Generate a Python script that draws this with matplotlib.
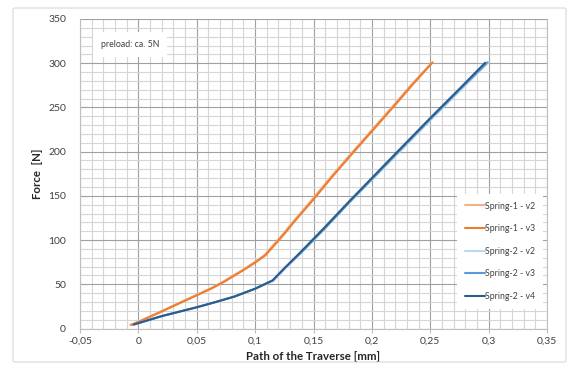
import matplotlib
matplotlib.use("Agg")
import matplotlib.pyplot as plt
from matplotlib.patches import FancyBboxPatch
from matplotlib.ticker import MultipleLocator, FuncFormatter

plt.rcParams['font.family'] = ['Lato', 'DejaVu Sans']

# Spring-1 (orange)
s1_v2_x = [-0.007, 0.0, 0.018, 0.035, 0.049, 0.062, 0.072, 0.089, 0.099, 0.108, 0.114, 0.124, 0.132, 0.149, 0.164, 0.181, 0.199, 0.219, 0.234, 0.251]
s1_v2_y = [4, 7.5, 18.5, 29, 37.5, 45.5, 52.5, 66, 74.5, 83, 92, 107, 120, 146, 170, 196, 223, 253, 276, 300]
s1_v3_x = [-0.006, 0.0, 0.018, 0.036, 0.05, 0.063, 0.073, 0.09, 0.1, 0.109, 0.115, 0.125, 0.133, 0.15, 0.165, 0.182, 0.2, 0.22, 0.235, 0.252]
s1_v3_y = [4, 7.5, 18, 29, 37.5, 45.5, 52.5, 66, 74.5, 83, 92, 107, 120, 146, 170, 196, 223, 253, 276, 301]

# Spring-2 (blue)
s2_v2_x = [-0.004, 0.02, 0.05, 0.065, 0.082, 0.1, 0.116, 0.126, 0.14, 0.161, 0.181, 0.218, 0.252, 0.277, 0.300]
s2_v2_y = [4.5, 14, 24, 29.5, 36, 45, 54, 68, 86.5, 115, 143, 192, 238, 271, 301]
s2_v3_x = [-0.004, 0.02, 0.05, 0.065, 0.082, 0.1, 0.115, 0.125, 0.14, 0.161, 0.181, 0.217, 0.251, 0.276, 0.299]
s2_v3_y = [4.5, 14, 24, 29.5, 36, 45, 54.4, 68, 86.5, 115, 143, 192, 238, 271, 301]
s2_v4_x = [-0.004, 0.02, 0.05, 0.065, 0.082, 0.1, 0.115, 0.125, 0.139, 0.16, 0.18, 0.216, 0.25, 0.275, 0.297]
s2_v4_y = [4.5, 14, 24, 29.5, 36, 45, 54.4, 68, 86.5, 115, 143, 192, 238, 271, 300.5]

series = [
    ("Spring-1 - v2", s1_v2_x, s1_v2_y, "#F4B183"),
    ("Spring-1 - v3", s1_v3_x, s1_v3_y, "#ED7D31"),
    ("Spring-2 - v2", s2_v2_x, s2_v2_y, "#BDD7EE"),
    ("Spring-2 - v3", s2_v3_x, s2_v3_y, "#5B9BD5"),
    ("Spring-2 - v4", s2_v4_x, s2_v4_y, "#2E5C8A"),
]

fig = plt.figure(figsize=(5.76, 3.69), dpi=100)
# chart border
fig.patches.append(FancyBboxPatch((13 / 576, 1 - 362 / 369), 553 / 576, 354 / 369,
                                  boxstyle="round,pad=0,rounding_size=0.004",
                                  transform=fig.transFigure, fill=False,
                                  edgecolor="#D9D9D9", linewidth=0.8))

ax = fig.add_axes([80 / 576, 1 - 328.5 / 369, 467 / 576, 309.5 / 369])

for label, xs, ys, col in series:
    ax.plot(xs, ys, color=col, lw=1.5, label=label, solid_capstyle='round', solid_joinstyle='round')

ax.set_xlim(-0.05, 0.35)
ax.set_ylim(0, 350)
ax.xaxis.set_major_locator(MultipleLocator(0.05))
ax.xaxis.set_minor_locator(MultipleLocator(0.01))
ax.yaxis.set_major_locator(MultipleLocator(50))
ax.yaxis.set_minor_locator(MultipleLocator(10))

def comma(v, pos):
    s = "%g" % round(v, 4)
    return s.replace(".", ",")

ax.xaxis.set_major_formatter(FuncFormatter(comma))
ax.grid(which='major', color="#A0A0A0", lw=0.8)
ax.grid(which='minor', color="#D6D6D6", lw=0.8)
ax.set_axisbelow(True)
for s in ax.spines.values():
    s.set_color("#BFBFBF")
    s.set_linewidth(0.8)
ax.spines['top'].set_visible(False)
ax.tick_params(which='major', axis='x', length=3, color="#BFBFBF", labelsize=7.5, labelcolor="#404040", pad=3)
ax.tick_params(which='major', axis='y', length=0, labelsize=7.5, labelcolor="#404040", pad=10)
ax.tick_params(which='minor', length=0)

ax.set_xlabel("Path of the Traverse [mm]", fontsize=8.3, fontweight='bold', color="#262626", labelpad=4)
ax.set_ylabel("Force  [N]", fontsize=8.3, fontweight='bold', color="#262626", labelpad=4)

ax.text(0.045, 0.918, "preload: ca. 5N", transform=ax.transAxes, fontsize=6.3, color="#404040",
        va='center', ha='left',
        bbox=dict(boxstyle="square,pad=0.9", facecolor="white", edgecolor="none"))

leg = ax.legend(loc='lower right', bbox_to_anchor=(1.0, 0.05), fontsize=6.3, frameon=True,
                framealpha=1, edgecolor="none", fancybox=False, handlelength=2.3,
                handletextpad=0.0, labelspacing=1.55, borderpad=0.9)
for t in leg.get_texts():
    t.set_color("#404040")

fig.savefig("out.png", dpi=100)
